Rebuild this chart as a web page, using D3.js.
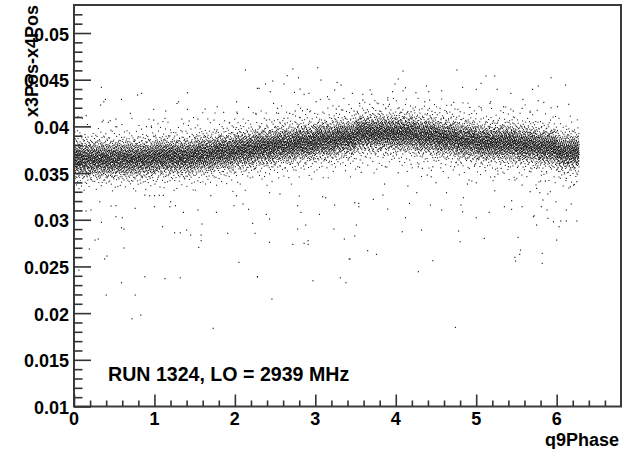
<!DOCTYPE html>
<html><head><meta charset="utf-8">
<script src="https://cdn.jsdelivr.net/npm/d3@7"></script>
<style>body{margin:0;background:#fff;} svg{display:block;}</style>
</head><body>
<svg id="chart" width="637" height="449"></svg>
<script>
// ---- data ----
const xTickValues = [0, 1, 2, 3, 4, 5, 6];
const xTickLabels = ["0", "1", "2", "3", "4", "5", "6"];
const yTickValues = [0.01, 0.015, 0.02, 0.025, 0.03, 0.035, 0.04, 0.045, 0.05];
const yTickLabels = ["0.01", "0.015", "0.02", "0.025", "0.03", "0.035", "0.04", "0.045", "0.05"];
const xTitle = "q9Phase";
const yTitle = "x3Pos-x4Pos";
const runLabel = "RUN 1324, LO = 2939 MHz";

// dense band, binned: phase bin edges, value-bin lower edges (width 0.0005), counts per cell
const phaseEdges = [0, 0.25, 0.5, 0.75, 1.0, 1.25, 1.5, 1.75, 2.0, 2.25, 2.5, 2.75, 3.0, 3.25,
  3.5, 3.75, 4.0, 4.25, 4.5, 4.75, 5.0, 5.25, 5.5, 5.75, 6.0, 6.28];
const valueBinLows = [0.0330, 0.0335, 0.0340, 0.0345, 0.0350, 0.0355, 0.0360, 0.0365, 0.0370, 0.0375,
  0.0380, 0.0385, 0.0390, 0.0395, 0.0400, 0.0405, 0.0410, 0.0415, 0.0420, 0.0425];
const bandCounts = [
  [2,4,10,21,43,68,86,86,68,43,21,10,4,2,1,1,0,0,0,0],
  [2,4,10,22,44,69,87,86,67,42,21,10,4,2,1,1,0,0,0,0],
  [2,4,10,21,43,68,86,87,69,44,21,10,4,2,1,1,0,0,0,0],
  [2,4,9,20,41,66,85,88,70,45,22,10,4,2,1,1,0,0,0,0],
  [2,3,6,14,30,56,80,90,80,56,30,14,6,3,2,1,0,0,0,0],
  [2,3,6,14,30,56,80,90,80,56,30,14,6,3,2,1,0,0,0,0],
  [1,2,4,10,21,43,68,86,86,68,43,21,10,4,2,1,1,0,0,0],
  [1,2,3,6,14,30,56,80,90,80,56,30,14,6,3,2,1,0,0,0],
  [1,1,2,4,10,21,43,68,86,86,68,43,21,10,4,2,1,1,0,0],
  [0,1,2,3,6,14,30,56,80,90,80,56,30,14,6,3,2,1,0,0],
  [0,1,1,2,4,10,21,43,68,86,86,68,43,21,10,4,2,1,1,0],
  [0,0,1,2,3,6,14,30,56,80,90,80,56,30,14,6,3,2,1,0],
  [0,0,1,1,2,4,10,21,43,68,86,86,68,43,21,10,4,2,1,1],
  [0,0,0,1,2,3,6,14,30,56,80,90,80,56,30,14,6,3,2,1],
  [0,0,0,0,1,2,3,6,14,30,56,80,90,80,56,30,14,6,3,2],
  [0,0,0,0,1,2,3,6,14,30,56,80,90,80,56,30,14,6,3,2],
  [0,0,0,0,1,2,3,6,14,30,56,80,90,80,56,30,14,6,3,2],
  [0,0,0,1,1,2,4,10,21,43,68,86,86,68,43,21,10,4,2,1],
  [0,0,0,1,2,3,6,14,30,56,80,90,80,56,30,14,6,3,2,1],
  [0,0,1,1,2,4,10,21,43,68,86,86,68,43,21,10,4,2,1,1],
  [0,0,1,2,3,6,14,30,56,80,90,80,56,30,14,6,3,2,1,0],
  [0,0,1,2,3,6,15,31,57,81,89,79,55,29,14,6,3,2,1,0],
  [0,1,1,2,4,10,21,43,68,86,86,68,43,21,10,4,2,1,1,0],
  [0,1,2,3,6,14,30,56,80,90,80,56,30,14,6,3,2,1,0,0],
  [1,2,3,7,15,33,62,88,99,88,62,33,15,7,3,2,1,0,0,0]
];

// isolated points read individually: [phase, value]
const strayPoints = [
  [0.34,0.04419],[0.79,0.04336],[0.84,0.04354],
  [0.37,0.04264],[0.39,0.0429],[0.33,0.04229],[0.59,0.0429],[0.70,0.0414],[0.99,0.04183],[0.15,0.04115],[0.05,0.04104],[0.52,0.04079],[0.45,0.04061],[0.35,0.0405],[0.99,0.04068],[1.13,0.04087],[0.90,0.03997],[0.96,0.04004],[0.52,0.03997],
  [0.88,0.03265],[0.94,0.03258],[1.00,0.03258],[1.06,0.03262],[1.11,0.03262],[0.32,0.03193],[0.46,0.03147],[0.52,0.03151],[1.00,0.0314],[0.76,0.03123],[0.21,0.03105],[0.15,0.03094],[0.34,0.02973],[0.52,0.03033],[0.60,0.03022],[0.59,0.02915],[0.62,0.02901],[1.10,0.02926],[0.30,0.02794],[0.26,0.02783],[0.19,0.02687],[0.62,0.02698],[0.41,0.02612],[0.38,0.0258],[0.06,0.02462],[0.88,0.0239],[1.13,0.02369],[0.59,0.02326],[0.40,0.02194],[0.76,0.02194],[0.83,0.0198],[0.72,0.0194],
  [2.13,0.04604],[2.28,0.04408],[1.41,0.04361],
  [1.28,0.04247],[1.30,0.04264],[1.14,0.04165],[1.41,0.04183],[1.63,0.04186],[1.78,0.04211],[1.86,0.04151],[2.02,0.04264],[2.17,0.04204],[2.26,0.0414],[2.03,0.0414],[1.34,0.04079],[1.43,0.04058],[1.54,0.04079],[1.74,0.04068],[1.93,0.0404],
  [1.20,0.03193],[1.70,0.03258],[2.02,0.03258],[1.36,0.0308],[1.54,0.03105],[1.77,0.0308],[1.26,0.03151],[1.19,0.0314],[1.99,0.03151],[2.10,0.03169],[2.17,0.03112],[2.22,0.02962],[1.59,0.02955],[1.40,0.0289],[1.25,0.02861],[1.32,0.02861],[1.45,0.02837],[1.58,0.02837],[1.58,0.02776],[1.91,0.02855],[2.25,0.02855],[1.55,0.02705],[2.05,0.02544],[1.32,0.02379],[2.28,0.0239],[1.73,0.01838],
  [2.72,0.04615],[3.03,0.04629],[2.65,0.04543],[2.79,0.04521],[3.07,0.04497],[2.47,0.04486],[2.38,0.04454],[2.61,0.04454],[3.27,0.04472],[3.32,0.04443],[2.30,0.04408],[2.44,0.04372],[2.74,0.04365],[2.81,0.044],[2.86,0.04344],[2.92,0.04354],[3.24,0.0439],[3.15,0.04318],
  [2.48,0.04247],[2.53,0.04194],[2.54,0.0414],[2.68,0.0414],[2.75,0.04165],[2.84,0.04168],[2.90,0.04183],[2.93,0.04157],[2.81,0.04093],[3.17,0.0429],[3.26,0.04186],[3.34,0.04176],[2.39,0.04068],[2.61,0.04087],[3.01,0.04264],
  [2.43,0.0329],[2.56,0.03276],[2.80,0.03254],[3.09,0.03247],[3.13,0.03236],[3.24,0.03158],[2.78,0.03151],[2.82,0.0308],[3.05,0.03058],[2.39,0.03058],[2.43,0.03008],[2.88,0.02944],[2.78,0.02901],[3.23,0.02901],[3.36,0.02794],[2.43,0.02759],[2.72,0.02737],[2.86,0.02748],[2.91,0.02776],[2.91,0.02737],[3.42,0.0258],[2.28,0.0239],[2.97,0.02347],[3.31,0.02379],[3.38,0.02326],[2.46,0.02151],
  [4.09,0.04593],[4.03,0.04508],[3.99,0.04454],[4.12,0.04414],[4.09,0.04382],[4.38,0.04433],[4.41,0.04372],[4.25,0.04361],[3.96,0.04372],[3.68,0.0439],[3.59,0.04344],[3.70,0.04344],[3.46,0.04354],[3.90,0.04307],
  [3.55,0.04247],[3.59,0.04283],[3.90,0.04283],[3.92,0.04237],[4.04,0.042],[4.19,0.04157],[4.36,0.04264],[4.42,0.04283],[4.40,0.04176],[4.55,0.04194],[3.80,0.04165],[3.48,0.04165],
  [3.55,0.03562],[3.57,0.03508],[3.87,0.03568],[4.03,0.03504],[4.19,0.03594],[4.28,0.03568],[4.33,0.03551],[4.46,0.03568],[4.39,0.03479],[4.44,0.03461],[4.50,0.03397],[3.86,0.03383],[4.15,0.03362],[4.26,0.0329],[3.84,0.03265],[3.72,0.03219],[3.49,0.03183],[3.54,0.03176],[3.54,0.0314],[4.17,0.03176],[3.90,0.03115],[4.43,0.03158],[4.12,0.03022],[3.51,0.02944],[3.49,0.02826],[4.08,0.02872],[4.32,0.0289],[3.65,0.02669],[3.76,0.0263],[3.43,0.0258],[4.46,0.02562],[4.28,0.02444],
  [4.76,0.04604],[5.12,0.0454],[5.23,0.0454],[5.06,0.04462],[4.83,0.04419],[5.00,0.04397],[5.26,0.04397],[5.43,0.04354],[5.70,0.04397],[4.57,0.04382],[5.58,0.0429],
  [5.18,0.04264],[5.17,0.04247],[4.72,0.04258],[4.69,0.04229],[4.63,0.04157],[4.80,0.04157],[4.92,0.04204],[5.06,0.042],[5.34,0.04211],[5.46,0.04165],[5.57,0.04194],[5.67,0.04151],
  [4.73,0.03568],[4.98,0.03587],[5.23,0.03461],[5.27,0.0349],[5.31,0.03551],[5.40,0.03568],[5.48,0.03426],[5.57,0.03372],[5.68,0.03515],[4.91,0.03426],[4.89,0.03383],[5.00,0.03397],[4.63,0.0329],[5.23,0.03311],[5.67,0.03301],[4.84,0.03236],[4.81,0.03158],[5.44,0.03204],[5.35,0.0314],[5.57,0.0314],[4.57,0.03105],[4.83,0.03086],[5.16,0.0308],[5.00,0.03022],[5.44,0.03112],[5.71,0.03033],[4.78,0.0288],[4.80,0.02765],[5.10,0.02801],[5.52,0.02812],[5.55,0.02676],[5.54,0.0263],[5.48,0.02598],[5.49,0.02558],[4.74,0.01848],
  [5.93,0.04521],[6.11,0.04443],[5.77,0.04433],
  [5.77,0.04275],[5.84,0.04258],[6.01,0.04211],[6.15,0.04237],[5.93,0.042],
  [5.80,0.03415],[5.86,0.03415],[5.89,0.03276],[5.92,0.03301],[6.12,0.03444],[6.17,0.03354],[6.21,0.03372],[6.25,0.03408],[5.99,0.03193],[5.83,0.03212],[6.18,0.03169],[5.75,0.03337],[5.79,0.0329],[5.81,0.0314],[5.88,0.03105],[6.12,0.03105],[5.72,0.03043],[5.89,0.03016],[5.96,0.02979],[6.03,0.02926],[6.05,0.02987],[6.12,0.02987],[6.25,0.02987],[5.75,0.02944],[6.00,0.02783],[5.82,0.02641],[5.82,0.02534]
];

// ---- layout ----
const W = 637, H = 449;
const frame = {left: 74, right: 621, top: 5, bottom: 406.5};
const xDomain = [0, 6.8], yDomain = [0.01, 0.053];
const FONT = "'Liberation Sans', Arial, Helvetica, sans-serif";

const svg = d3.select("#chart");
svg.append("rect").attr("width", W).attr("height", H).attr("fill", "#fff");

const x = d3.scaleLinear().domain(xDomain).range([frame.left, frame.right]);
const y = d3.scaleLinear().domain(yDomain).range([frame.bottom, frame.top]);

// expand the binned band into dots, spread inside each cell with a fixed Halton layout
function halton(i, b) { let f = 1, r = 0; while (i > 0) { f /= b; r += f * (i % b); i = Math.floor(i / b); } return r; }
const bandPoints = [];
let n = 0;
bandCounts.forEach((col, ci) => {
  const p0 = phaseEdges[ci], p1 = phaseEdges[ci + 1];
  col.forEach((cnt, ri) => {
    const v0 = valueBinLows[ri], dv = 0.0005;
    for (let k = 0; k < cnt; k++) {
      n++;
      bandPoints.push([p0 + halton(n, 2) * (p1 - p0), v0 + halton(n, 3) * dv]);
    }
  });
});

const dots = svg.append("g").attr("fill", "#000");
dots.selectAll("rect.b").data(bandPoints).join("rect").attr("class", "b")
  .attr("x", d => x(d[0]) - 0.5).attr("y", d => y(d[1]) - 0.5)
  .attr("width", 1).attr("height", 1);
dots.selectAll("rect.s").data(strayPoints).join("rect").attr("class", "s")
  .attr("x", d => x(d[0]) - 0.5).attr("y", d => y(d[1]) - 0.5)
  .attr("width", 1.1).attr("height", 1.1);

// frame
svg.append("rect")
  .attr("x", frame.left).attr("y", frame.top)
  .attr("width", frame.right - frame.left).attr("height", frame.bottom - frame.top)
  .attr("fill", "none").attr("stroke", "#3a3a3a").attr("stroke-width", 2);

// y axis (ticks inside)
const yAxis = d3.axisRight(y).tickValues(yTickValues).tickSize(17).tickFormat("");
const yAxisG = svg.append("g").attr("transform", `translate(${frame.left},0)`).call(yAxis);
const yMinor = d3.range(11, 53).map(v => v / 1000).filter(v => !yTickValues.some(t => Math.abs(t - v) < 1e-9));
const yAxisMinor = d3.axisRight(y).tickValues(yMinor).tickSize(8.5).tickFormat("");
const yAxisMinorG = svg.append("g").attr("transform", `translate(${frame.left},0)`).call(yAxisMinor);

// x axis (ticks inside)
const xAxis = d3.axisTop(x).tickValues(xTickValues).tickSize(12).tickFormat("");
const xAxisG = svg.append("g").attr("transform", `translate(0,${frame.bottom})`).call(xAxis);
const xMinor = d3.range(1, 34).map(i => i * 0.2).filter(v => !xTickValues.some(t => Math.abs(t - v) < 1e-9));
const xAxisMinor = d3.axisTop(x).tickValues(xMinor).tickSize(6).tickFormat("");
const xAxisMinorG = svg.append("g").attr("transform", `translate(0,${frame.bottom})`).call(xAxisMinor);

[yAxisG, yAxisMinorG, xAxisG, xAxisMinorG].forEach(g => {
  g.select(".domain").remove();
  g.selectAll(".tick line").attr("stroke", "#333").attr("stroke-width", 1.6);
});

// tick labels
svg.append("g").selectAll("text").data(yTickValues).join("text")
  .attr("x", 69).attr("y", d => y(d) + 7.5)
  .attr("text-anchor", "end")
  .style("font-family", FONT).style("font-weight", "bold").style("font-size", "18px")
  .text((d, i) => yTickLabels[i]);

svg.append("g").selectAll("text").data(xTickValues).join("text")
  .attr("x", d => x(d)).attr("y", 425)
  .attr("text-anchor", "middle")
  .style("font-family", FONT).style("font-weight", "bold").style("font-size", "18px")
  .text((d, i) => xTickLabels[i]);

// axis titles
svg.append("text").attr("x", 619).attr("y", 446).attr("text-anchor", "end")
  .style("font-family", FONT).style("font-weight", "bold").style("font-size", "18px")
  .text(xTitle);
svg.append("text").attr("transform", "translate(37.5,5) rotate(-90)").attr("text-anchor", "end")
  .style("font-family", FONT).style("font-weight", "bold").style("font-size", "18px")
  .text(yTitle);

// run label
svg.append("text").attr("x", 108).attr("y", 381)
  .style("font-family", FONT).style("font-weight", "bold").style("font-size", "19.6px")
  .text(runLabel);
</script>
</body></html>
